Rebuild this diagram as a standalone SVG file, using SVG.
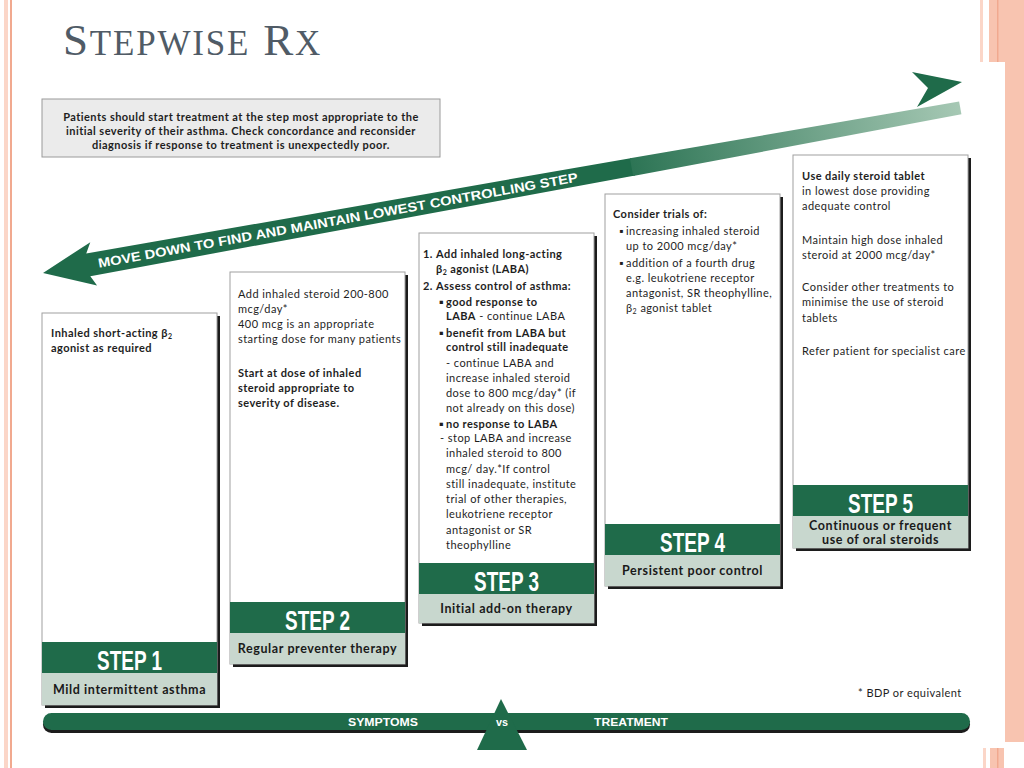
<svg xmlns="http://www.w3.org/2000/svg" width="1024" height="768" viewBox="0 0 1024 768">
<defs>
<style>
.shadow{fill:#1c1c1c}
.box{fill:#ffffff;stroke:#a0a0a0;stroke-width:1}
.band{fill:#1f6b4a}
.lab{fill:#c8d7ce}
.stepno{font-family:"Liberation Sans",Arial,sans-serif;font-weight:bold;font-size:28px;fill:#ffffff;text-anchor:middle}
.labt{font-family:Lato,"Liberation Sans",sans-serif;font-weight:bold;font-size:12.5px;letter-spacing:0.6px;fill:#1a1a1a;text-anchor:middle}
.t{font-family:Lato,"Liberation Sans",sans-serif;font-size:11px;letter-spacing:0.45px;fill:#1e1e1e}
.b{font-weight:bold}
.sub{font-size:7px}
.deco1{fill:#fbd6c8}
.deco2{fill:#f8c4b0}
.deco3{fill:#f1a98f}
.bar{font-family:"Liberation Sans",Arial,sans-serif;font-weight:bold;font-size:11px;fill:#ffffff;text-anchor:middle}
</style>
<linearGradient id="fade" gradientUnits="userSpaceOnUse" x1="560" y1="0" x2="932" y2="0">
<stop offset="0" stop-color="#1f6b4a"/>
<stop offset="1" stop-color="#a6c8b4"/>
</linearGradient>
</defs>
<rect width="1024" height="768" fill="#ffffff"/>
<g id="decoration">
<rect class="deco1" x="4" y="0" width="4" height="768"/>
<rect class="deco3" x="10" y="0" width="2" height="768"/>
<rect class="deco1" x="980" y="0" width="3" height="62"/>
<rect class="deco2" x="989" y="0" width="16" height="62"/>
<rect class="deco3" x="997" y="0" width="1.5" height="62"/>
<rect class="deco2" x="1005" y="0" width="19" height="742"/>
<rect class="deco1" x="983" y="748" width="3" height="20"/>
<rect class="deco2" x="990" y="748" width="14" height="20"/>
<rect class="deco3" x="997" y="748" width="1.5" height="20"/>
</g>
<g id="title">
<text x="63" y="55" font-family="Liberation Serif,'Times New Roman',serif" fill="#505b66" letter-spacing="1.8"><tspan font-size="45">S</tspan><tspan font-size="35">TEPWISE</tspan><tspan font-size="45"> R</tspan><tspan font-size="35">X</tspan></text>
</g>
<g id="info">
<rect x="42" y="99" width="398" height="58" fill="#ebebeb" stroke="#9a9a9a" stroke-width="1"/>
<text class="t b" x="241" y="120.5" text-anchor="middle" letter-spacing="0.35">Patients should start treatment at the step most appropriate to the</text>
<text class="t b" x="241" y="134.5" text-anchor="middle" letter-spacing="0.35">initial severity of their asthma. Check concordance and reconsider</text>
<text class="t b" x="241" y="148.5" text-anchor="middle" letter-spacing="0.35">diagnosis if response to treatment is unexpectedly poor.</text>
</g>
<g id="connectors">
<g id="move-arrow" transform="translate(43,273) rotate(-10.2)">
<polygon fill="#1f6b4a" points="0,0 52,-22 46,-11.5 600,-9 600,9 46,11.5 51,22"/>
<polygon fill="url(#fade)" points="598,-9 932,-6.5 932,6.5 598,9"/>
<text x="56" y="4.8" font-family="Liberation Sans,Arial,sans-serif" font-weight="bold" font-size="13" fill="#ffffff" textLength="487" lengthAdjust="spacingAndGlyphs">MOVE DOWN TO FIND AND MAINTAIN LOWEST CONTROLLING STEP</text>
</g>
<polygon id="up-head" fill="#1f6b4a" points="912,72 962,82 917,107 928,88"/>
</g>
<g id="step1">
<rect class="shadow" x="45" y="316" width="175" height="392"/>
<rect class="box" x="42" y="313" width="175" height="392"/>
<rect class="band" x="42" y="642" width="175" height="31"/>
<rect class="lab" x="42" y="673" width="175" height="32"/>
<text class="stepno" x="129.5" y="670" textLength="65" lengthAdjust="spacingAndGlyphs">STEP 1</text>
<text class="labt" x="129.5" y="693.5">Mild intermittent asthma</text>
<text class="t b" x="51" y="337">Inhaled short-acting β<tspan class="sub" dy="2">2</tspan></text>
<text class="t b" x="51" y="352">agonist as required</text>
</g>
<g id="step2">
<rect class="shadow" x="233" y="275" width="175" height="392"/>
<rect class="box" x="230" y="272" width="175" height="392"/>
<rect class="band" x="230" y="602" width="175" height="31"/>
<rect class="lab" x="230" y="633" width="175" height="31"/>
<text class="stepno" x="317.5" y="630" textLength="65" lengthAdjust="spacingAndGlyphs">STEP 2</text>
<text class="labt" x="317.5" y="652.5">Regular preventer therapy</text>
<text class="t" x="238" y="298">Add inhaled steroid 200-800</text>
<text class="t" x="238" y="313">mcg/day*</text>
<text class="t" x="238" y="328">400 mcg is an appropriate</text>
<text class="t" x="238" y="343">starting dose for many patients</text>
<text class="t b" x="238" y="377">Start at dose of inhaled</text>
<text class="t b" x="238" y="392">steroid appropriate to</text>
<text class="t b" x="238" y="407">severity of disease.</text>
</g>
<g id="step3">
<rect class="shadow" x="422" y="236" width="175" height="390"/>
<rect class="box" x="419" y="233" width="175" height="390"/>
<rect class="band" x="419" y="563" width="175" height="31"/>
<rect class="lab" x="419" y="594" width="175" height="29"/>
<text class="stepno" x="506.5" y="591" textLength="65" lengthAdjust="spacingAndGlyphs">STEP 3</text>
<text class="labt" x="506.5" y="612.5">Initial add-on therapy</text>
<text class="t b" x="423" y="258">1.</text>
<text class="t b" x="436" y="258">Add inhaled long-acting</text>
<text class="t b" x="436" y="273">β<tspan class="sub" dy="2">2</tspan><tspan dy="-2"> agonist (LABA)</tspan></text>
<text class="t b" x="423" y="290">2.</text>
<text class="t b" x="436" y="290">Assess control of asthma:</text>
<text class="t b" x="439" y="306">▪</text>
<text class="t b" x="446" y="306">good response to</text>
<text class="t" x="446" y="320"><tspan class="b">LABA</tspan> - continue LABA</text>
<text class="t b" x="439" y="337">▪</text>
<text class="t b" x="446" y="337">benefit from LABA but</text>
<text class="t b" x="446" y="351">control still inadequate</text>
<text class="t" x="446" y="367">- continue LABA and</text>
<text class="t" x="446" y="382">increase inhaled steroid</text>
<text class="t" x="446" y="397">dose to 800 mcg/day* (if</text>
<text class="t" x="446" y="412">not already on this dose)</text>
<text class="t b" x="439" y="428">▪</text>
<text class="t b" x="446" y="428">no response to LABA</text>
<text class="t" x="440" y="442">- stop LABA and increase</text>
<text class="t" x="446" y="457">inhaled steroid to 800</text>
<text class="t" x="446" y="473">mcg/ day.*If control</text>
<text class="t" x="446" y="488">still inadequate, institute</text>
<text class="t" x="446" y="503">trial of other therapies,</text>
<text class="t" x="446" y="518">leukotriene receptor</text>
<text class="t" x="446" y="534">antagonist or SR</text>
<text class="t" x="446" y="549">theophylline</text>
</g>
<g id="step4">
<rect class="shadow" x="608" y="197" width="175" height="392"/>
<rect class="box" x="605" y="194" width="175" height="392"/>
<rect class="band" x="605" y="524" width="175" height="31"/>
<rect class="lab" x="605" y="555" width="175" height="31"/>
<text class="stepno" x="692.5" y="552" textLength="65" lengthAdjust="spacingAndGlyphs">STEP 4</text>
<text class="labt" x="692.5" y="575">Persistent poor control</text>
<text class="t b" x="613" y="218">Consider trials of:</text>
<text class="t" x="619" y="235">▪</text>
<text class="t" x="626" y="235">increasing inhaled steroid</text>
<text class="t" x="626" y="250">up to 2000 mcg/day*</text>
<text class="t" x="619" y="267">▪</text>
<text class="t" x="626" y="267">addition of a fourth drug</text>
<text class="t" x="626" y="282">e.g. leukotriene receptor</text>
<text class="t" x="626" y="297">antagonist, SR theophylline,</text>
<text class="t" x="626" y="312">β<tspan class="sub" dy="2">2</tspan><tspan dy="-2"> agonist tablet</tspan></text>
</g>
<g id="step5">
<rect class="shadow" x="796" y="158" width="175" height="393"/>
<rect class="box" x="793" y="155" width="175" height="393"/>
<rect class="band" x="793" y="485" width="175" height="31"/>
<rect class="lab" x="793" y="516" width="175" height="32"/>
<text class="stepno" x="880.5" y="513" textLength="65" lengthAdjust="spacingAndGlyphs">STEP 5</text>
<text class="labt" x="880.5" y="530">Continuous or frequent</text>
<text class="labt" x="880.5" y="544">use of oral steroids</text>
<text class="t b" x="802" y="180">Use daily steroid tablet</text>
<text class="t" x="802" y="195">in lowest dose providing</text>
<text class="t" x="802" y="210">adequate control</text>
<text class="t" x="802" y="244">Maintain high dose inhaled</text>
<text class="t" x="802" y="259">steroid at 2000 mcg/day*</text>
<text class="t" x="802" y="291">Consider other treatments to</text>
<text class="t" x="802" y="306">minimise the use of steroid</text>
<text class="t" x="802" y="322">tablets</text>
<text class="t" x="802" y="355">Refer patient for specialist care</text>
</g>
<g id="footnote">
<text class="t" x="858" y="697">* BDP or equivalent</text>
</g>
<g id="balance">
<rect x="43" y="716" width="927" height="17" rx="8.5" fill="#1c1c1c"/>
<rect x="43" y="713" width="927" height="17" rx="8.5" fill="#1f6b4a"/>
<polygon points="501,699 527,750 477,750" fill="#1f6b4a"/>
<text class="bar" x="383" y="725.5" textLength="70" lengthAdjust="spacingAndGlyphs">SYMPTOMS</text>
<text class="bar" x="502" y="725.5" textLength="12" lengthAdjust="spacingAndGlyphs">vs</text>
<text class="bar" x="631" y="725.5" textLength="74" lengthAdjust="spacingAndGlyphs">TREATMENT</text>
</g>
</svg>
